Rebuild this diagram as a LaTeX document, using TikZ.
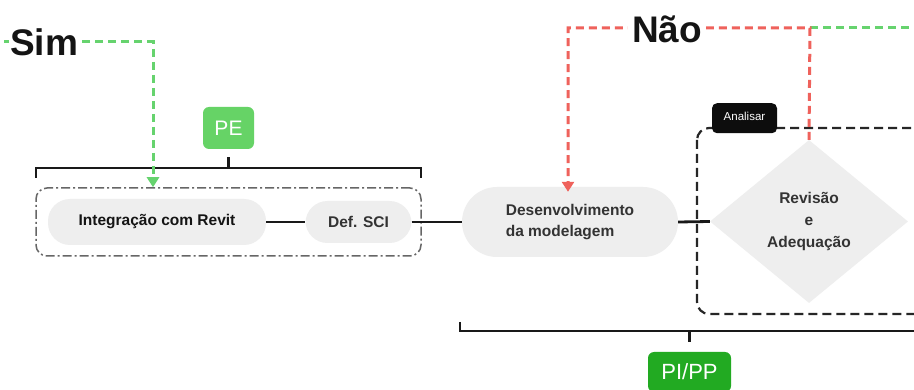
\documentclass[tikz,border=0pt]{standalone}
\usepackage{fontspec}
\setmainfont{Liberation Sans}
\usetikzlibrary{shapes.geometric,arrows.meta}
\definecolor{gline}{HTML}{66D36E}
\definecolor{rline}{HTML}{EF625C}
\definecolor{pegreen}{HTML}{66D366}
\definecolor{ppgreen}{HTML}{22AA22}
\definecolor{pillfill}{HTML}{EEEEEE}
\definecolor{txt}{HTML}{333333}
\tikzset{
  pill/.style={draw=none,fill=pillfill,rounded corners=22pt,inner sep=0pt,font=\bfseries\fontsize{15.5}{18}\selectfont,text=txt},
  conn/.style={draw=black!90,line width=2.8pt},
  gdash/.style={draw=gline,line width=3pt,dash pattern=on 8pt off 5pt},
  rdash/.style={draw=rline,line width=3pt,dash pattern=on 8pt off 5pt},
  bigword/.style={fill=white,inner sep=2pt,font=\bfseries\fontsize{37}{42}\selectfont,text=black!92},
  tag/.style={rounded corners=6pt,inner sep=0pt,text=white,font=\fontsize{21}{24}\selectfont},
  brack/.style={draw=black!90,line width=2.2pt},
  arr/.style={-{Triangle[length=10pt,width=12pt]}}
}
\begin{document}
\begin{tikzpicture}[x=1pt,y=-1pt]
\clip (0,0) rectangle (914,390);
\fill[white] (0,0) rectangle (914,390);

% group box (dash-dot)
\node[draw=black!60,line width=1.5pt,dash pattern=on 9pt off 3pt on 2pt off 3pt,rounded corners=11pt,minimum width=385pt,minimum height=68pt,inner sep=0pt] (grp) at (228.5,222) {};
% pills
\node[pill,minimum width=218pt,minimum height=46pt,text=black!92] (rev) at (157,222) {Integração com Revit};
\node[pill,minimum width=106pt,minimum height=42pt] (sci) at (358.5,222) {Def. SCI};
\node[pill,minimum width=216pt,minimum height=70pt,rounded corners=35pt,align=left] (des) at (570,222) {Desenvolvimento\\[3pt]da modelagem};

% analisar box
\draw[black!85,line width=2.2pt,dash pattern=on 9pt off 5pt,rounded corners=12pt] (697,128) rectangle (940,314);
\node[fill=black!95,rounded corners=5pt,minimum width=65pt,minimum height=30pt,inner sep=0pt,anchor=north] (ana) at (744.5,103) {};
\fill[black!95] (712,118) rectangle (777,128);
\node[text=white,font=\fontsize{11.5}{13}\selectfont,inner sep=0pt] (anat) at (744.5,116) {Analisar};

% diamond
\node[diamond,fill=pillfill,minimum width=198pt,minimum height=163pt,inner sep=0pt,font=\bfseries\fontsize{15.5}{18}\selectfont,text=txt,align=center] (dia) at (809,221.5) {Revisão\\[4pt]e\\[4pt]Adequação};

% connectors
\draw[conn] (rev.east) -- (sci.west);
\draw[conn] (sci.east) -- (des.west);
\draw[conn] (des.east) -- (dia.west);

% brackets
\coordinate (tbl) at (36,178);
\coordinate (tbr) at (421,178);
\draw[brack] (tbl) -- (36,168) -- (421,168) -- (tbr);
\node[tag,fill=pegreen,minimum width=51pt,minimum height=42pt] (pe) at (228.5,128) {PE};
\draw[brack] (pe.south |- 0,168) -- (228.5,157);

\coordinate (bbl) at (460,322);
\draw[brack] (bbl) -- (460,331) -- (920,331);
\node[tag,fill=ppgreen,minimum width=83pt,minimum height=40pt,font=\fontsize{22}{26}\selectfont] (pp) at (689.5,372) {PI/PP};
\draw[brack] (pp.north |- 0,331) -- (689.5,342);

% Sim loop
\coordinate (gs) at (4,42);
\coordinate (gc) at (153,42);
\draw[gdash,arr,gline] (gs) -- (gc) -- (gc |- grp.north);
\node[bigword,anchor=west,inner sep=1pt] (sim) at (9,42) {Sim};

% Nao loop
\coordinate (rc) at (810,28);
\coordinate (lc) at (568,28);
\coordinate (ge) at (920,28);
\draw[gdash] (rc) -- (ge);
\draw[rdash,arr,rline] (dia.north) -- (rc) -- (lc) -- ([yshift=-5pt]lc |- des.north);
\node[bigword,inner sep=4pt] (nao) at (667,29) {Não};
\end{tikzpicture}
\end{document}
